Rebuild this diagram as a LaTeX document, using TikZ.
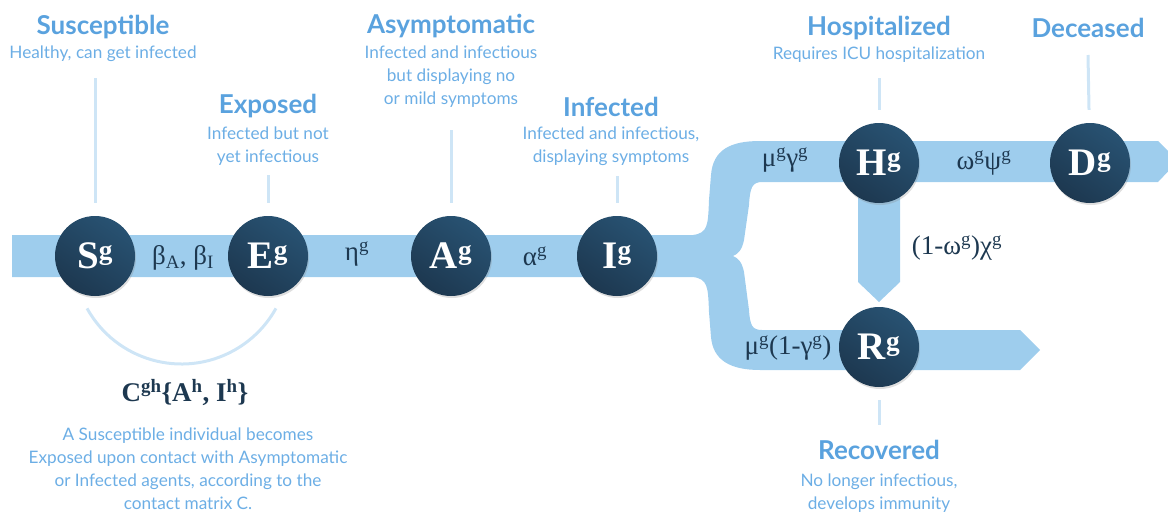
\documentclass[tikz,border=0pt]{standalone}
\usepackage{fontspec}
\setmainfont{Lato}
\newfontfamily\rateserif{Liberation Serif}
\usetikzlibrary{calc, shadows}
\definecolor{band}{RGB}{158,205,237}
\definecolor{navy}{RGB}{29,56,80}
\definecolor{navyhi}{RGB}{40,82,114}
\definecolor{headblue}{RGB}{90,162,222}
\definecolor{textblue}{RGB}{108,174,229}
\definecolor{guideblue}{RGB}{206,229,246}
\tikzset{
  stage/.style={circle, minimum size=80pt, inner sep=0pt,
    shading=axis, top color=navyhi, bottom color=navy, shading angle=-35,
    drop shadow={shadow xshift=1pt, shadow yshift=-2pt, opacity=.25},
    text=white, font=\rateserif\fontsize{39}{39}\selectfont\bfseries},
  rate/.style={text=navy, font=\rateserif\fontsize{27}{27}\selectfont},
  head/.style={text=headblue, font=\fontsize{26}{28}\selectfont\bfseries},
  body/.style={text=textblue, align=center, font=\fontsize{17.2}{23}\selectfont},
  guide/.style={draw=guideblue, line width=3pt}
}
\begin{document}
\begin{tikzpicture}[x=1pt, y=-1pt]
  \useasboundingbox (0,0) rectangle (1168,514);

  % flow bands
  \fill[band] (12,235) -- (693,235) .. controls (708,233) and (708,225) .. (709,200)
    -- (711,175) .. controls (713,150) and (730,141) .. (760,141) -- (1158,141)
    -- (1178,161) -- (1158,182) -- (762,182) .. controls (752,182) and (750,188) .. (749,205)
    -- (744,240) .. controls (742,250) and (738,254) .. (733,256)
    .. controls (738,258) and (742,262) .. (744,272) -- (749,310)
    .. controls (750,325) and (752,330) .. (762,330) -- (1020,330) -- (1040,350)
    -- (1020,370) -- (760,370) .. controls (730,370) and (713,360) .. (711,337)
    -- (709,312) .. controls (708,287) and (708,279) .. (693,277) -- (12,277) -- cycle;
  \fill[band] (858,170) -- (900,170) -- (900,282) -- (879,302) -- (858,282) -- cycle;

  % compartments
  \node[stage] (S) at (95,256) {S\textsuperscript{g}};
  \node[stage] (E) at (268,256) {E\textsuperscript{g}};
  \node[stage] (A) at (451,256) {A\textsuperscript{g}};
  \node[stage] (I) at (617,256) {I\textsuperscript{g}};
  \node[stage] (H) at (879,163) {H\textsuperscript{g}};
  \node[stage] (D) at (1090,163) {D\textsuperscript{g}};
  \node[stage] (R) at (879,347) {R\textsuperscript{g}};

  % rates
  \node[rate] (bSE) at (183,258) {β\textsubscript{A}, β\textsubscript{I}};
  \node[rate] (eEA) at (357,254) {η\textsuperscript{g}};
  \node[rate] (aAI) at (535,256) {α\textsuperscript{g}};
  \node[rate] (mIH) at (785,160) {μ\textsuperscript{g}γ\textsuperscript{g}};
  \node[rate] (wHD) at (984,163) {ω\textsuperscript{g}ψ\textsuperscript{g}};
  \node[rate] (cHR) at (957,248) {(1-ω\textsuperscript{g})χ\textsuperscript{g}};
  \node[rate] (mIR) at (788,348) {μ\textsuperscript{g}(1-γ\textsuperscript{g})};

  % contact arc
  \coordinate (SE) at ($(S)!.5!(E)$);
  \draw[guide] (SE) ++(151:108) arc[start angle=151, end angle=29, radius=108];
  \node[rate, font=\rateserif\fontsize{27}{27}\selectfont\bfseries] (Cgh) at (185,393)
    {C\textsuperscript{gh}\{A\textsuperscript{h}, I\textsuperscript{h}\}};
  \node[body] (Ctxt) at (188,469) {A Susceptible individual becomes\\
    Exposed upon contact with Asymptomatic\\or Infected agents, according to the\\contact matrix C.};

  % descriptions
  \node[head] (Shead) at (103,27) {Susceptible};
  \node[body] (Stxt) at (103,54) {Healthy, can get infected};
  \node[head] (Ehead) at (268,106) {Exposed};
  \node[body] (Etxt) at (268,146) {Infected but not\\yet infectious};
  \node[head] (Ahead) at (451,26) {Asymptomatic};
  \node[body] (Atxt) at (451,77) {Infected and infectious\\but displaying no\\or mild symptoms};
  \node[head] (Ihead) at (611,107) {Infected};
  \node[body] (Itxt) at (611,146) {Infected and infectious,\\displaying symptoms};
  \node[head] (Hhead) at (879,28) {Hospitalized};
  \node[body] (Htxt) at (879,55) {Requires ICU hospitalization};
  \node[head] (Dhead) at (1088,28) {Deceased};
  \node[head] (Rhead) at (879,450) {Recovered};
  \node[body] (Rtxt) at (879,493) {No longer infectious,\\develops immunity};

  \coordinate (Stip) at (95,78);
  \coordinate (Etip) at (268,175);
  \coordinate (Atip) at (451,130);
  \coordinate (Itip) at (617,176);
  \coordinate (Htip) at (879,78);
  \coordinate (Dtip) at (1088,55);
  \coordinate (Rtip) at (879,425);
  \foreach \n in {S,E,A,I,H,D,R}
    \draw[guide, shorten <=13pt] (\n) -- (\n tip);
\end{tikzpicture}
\end{document}
